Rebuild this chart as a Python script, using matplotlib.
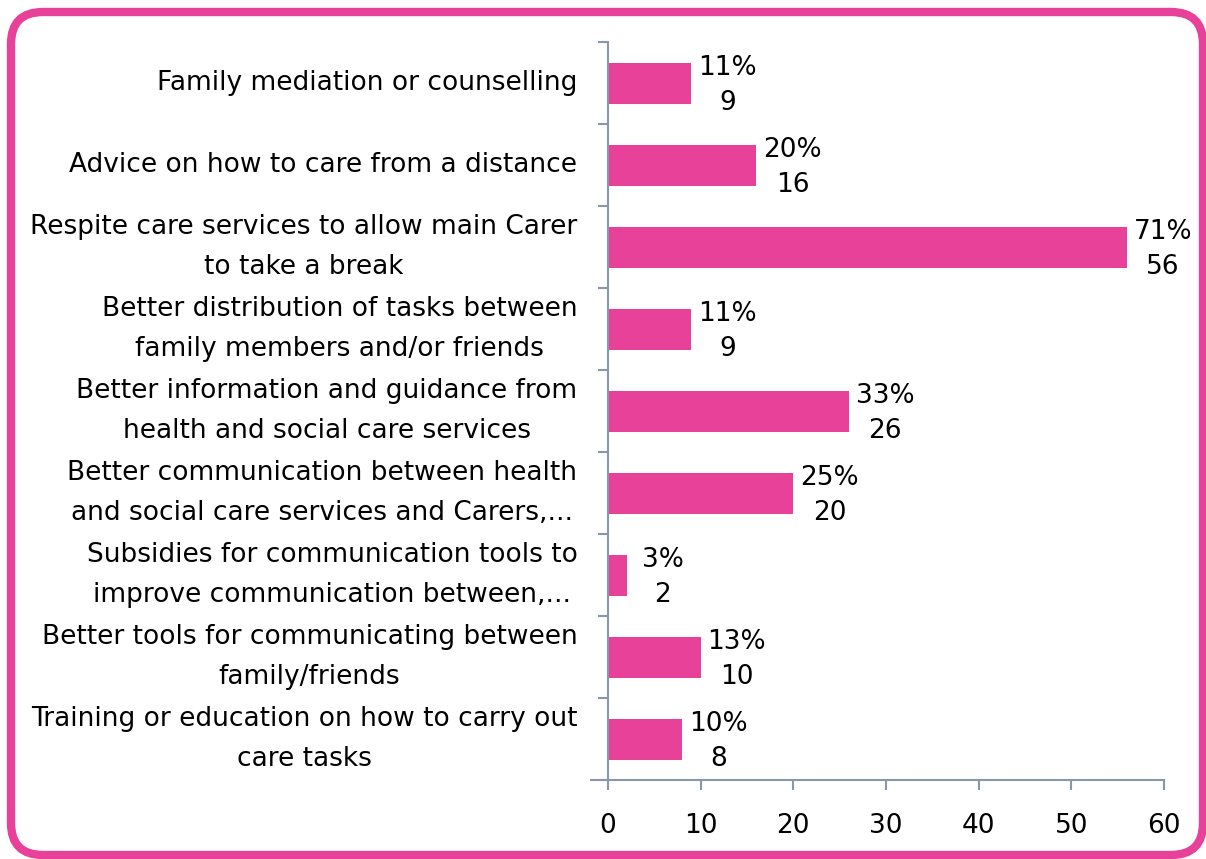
import numpy as np
import matplotlib.pyplot as plt
from matplotlib.patches import FancyBboxPatch
from matplotlib.ticker import FixedLocator, NullFormatter

PINK = '#E8419A'
AXIS = '#8A97A8'

categories = [
    'Family mediation or counselling',
    'Advice on how to care from a distance',
    'Respite care services to allow main Carer\nto take a break',
    'Better distribution of tasks between\nfamily members and/or friends',
    'Better information and guidance from\nhealth and social care services',
    'Better communication between health\nand social care services and Carers,...',
    'Subsidies for communication tools to\nimprove communication between,...',
    'Better tools for communicating between\nfamily/friends',
    'Training or education on how to carry out\ncare tasks',
]
counts = [9, 16, 56, 9, 26, 20, 2, 10, 8]
percents = [11, 20, 71, 11, 33, 25, 3, 13, 10]

plt.rcParams['font.family'] = ['DejaVu Sans']
FS = 19

fig = plt.figure(figsize=(12.06, 8.59), dpi=100)
ax = fig.add_axes([608 / 1206, 1 - 780 / 859, 556 / 1206, 738 / 859])

n = len(categories)
y = np.arange(n)
ax.barh(y, counts, height=0.5, color=PINK)
ax.set_ylim(n - 0.5, -0.5)
ax.set_xlim(0, 60)
ax.set_xticks(range(0, 61, 10))

# boundaries get the tick marks, centres carry the labels
ax.yaxis.set_major_locator(FixedLocator(np.arange(-0.5, n, 1)))
ax.yaxis.set_major_formatter(NullFormatter())
ax.yaxis.set_minor_locator(FixedLocator(y))
ax.set_yticklabels(categories, minor=True, ha='right', va='center',
                   multialignment='center', linespacing=1.7)
ax.tick_params(axis='y', which='minor', length=0, pad=22, labelsize=FS)
ax.tick_params(axis='y', which='major', length=7, width=1.5, color=AXIS)
ax.tick_params(axis='x', length=7, width=1.5, color=AXIS, pad=17, labelsize=FS)

for side in ('top', 'right'):
    ax.spines[side].set_visible(False)
for side in ('left', 'bottom'):
    ax.spines[side].set_color(AXIS)
    ax.spines[side].set_linewidth(1.5)
ax.spines['bottom'].set_bounds(-1.8, 60)

for yi, c, p in zip(y, counts, percents):
    ax.annotate(f'{p}%\n{c}', (c, yi), xytext=(26, -2), textcoords='offset points',
                ha='center', va='center', fontsize=FS, linespacing=1.45)

# rounded pink frame around the whole figure
frame = FancyBboxPatch((11, 4), 1192, 843, boxstyle='round,pad=0,rounding_size=32',
                       transform=None, facecolor='none', edgecolor=PINK,
                       linewidth=6, clip_on=False)
fig.patches.append(frame)

fig.savefig('out.png', dpi=100)
